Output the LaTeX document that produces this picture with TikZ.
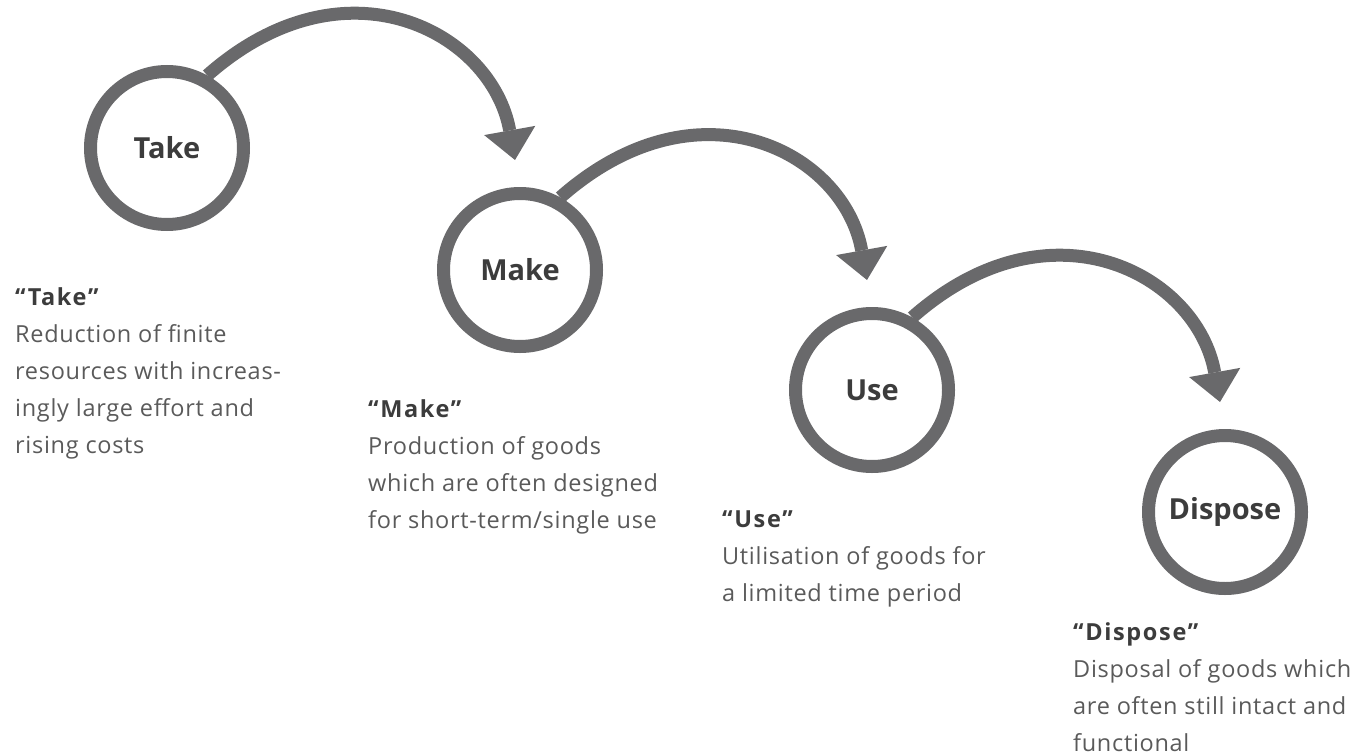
\documentclass[tikz,border=0pt]{standalone}
\usepackage{fontspec}
\setmainfont{Open Sans}
\usetikzlibrary{arrows.meta}
\definecolor{ringgray}{HTML}{69696B}
\definecolor{labelgray}{HTML}{3C3C3C}
\definecolor{bodygray}{HTML}{5A5A5A}
\tikzset{
  stage/.style={circle, draw=ringgray, line width=13pt, minimum size=153pt, inner sep=0pt,
    text=labelgray, font={\fontsize{29}{34}\selectfont\bfseries}},
  flow/.style={draw=ringgray, line width=13pt,
    -{Triangle[width=52pt,length=30pt,line width=0pt]}},
  desc/.style={anchor=north west, inner sep=0pt, align=left, text=bodygray,
    font={\fontsize{23.5}{37}\selectfont\addfontfeature{LetterSpace=3}}},
}
\newcommand{\dhead}[1]{{\color{labelgray}\bfseries\addfontfeature{LetterSpace=7} #1}}
\begin{document}
\begin{tikzpicture}[x=1pt, y=-1pt]
  \useasboundingbox (0,0) rectangle (1360,755);
  \node[stage] (take) at (167,148) {Take};
  \node[stage] (make) at (520,270) {Make};
  \node[stage] (use) at (872,390) {Use};
  \node[stage] (dispose) at (1225,512) {Dispose};

  \coordinate (tmake) at ([shift={(-5,-110)}]make.center);
  \coordinate (tuse) at ([shift={(-5,-110)}]use.center);
  \coordinate (tdispose) at ([shift={(-5,-110)}]dispose.center);

  \draw[flow] (take.61) .. controls +(138,-122) and +(-23,-128) .. (tmake);
  \draw[flow] (make.61) .. controls +(138,-122) and +(-23,-128) .. (tuse);
  \draw[flow] (use.61) .. controls +(138,-122) and +(-23,-128) .. (tdispose);

  \node[desc] (dtake) at (15,287) {\dhead{“Take”}\\Reduction of finite\\resources with increas-\\ingly large effort and\\rising costs};
  \node[desc] (dmake) at (368,399) {\dhead{“Make”}\\Production of goods\\which are often designed\\for short-term/single use};
  \node[desc] (duse) at (722,511) {\dhead{“Use”}\\Utilisation of goods for\\a limited time period};
  \node[desc] (ddispose) at (1073,622) {\dhead{“Dispose”}\\Disposal of goods which\\are often still intact and\\functional};
\end{tikzpicture}
\end{document}
